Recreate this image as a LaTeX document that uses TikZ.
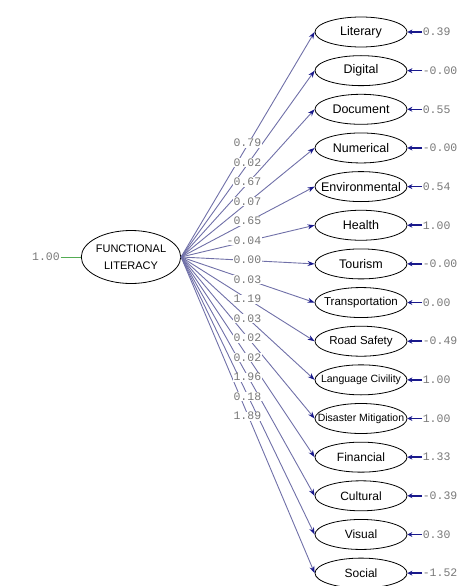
\documentclass[tikz,border=0pt]{standalone}
\usepackage{fontspec}
\setsansfont{Liberation Sans}
\setmonofont{Liberation Mono}
\usetikzlibrary{arrows.meta,shapes.geometric,positioning}
\definecolor{lineblue}{RGB}{112,112,168}
\definecolor{tipblue}{RGB}{25,25,140}
\definecolor{numgray}{RGB}{120,120,120}

\begin{document}
\begin{tikzpicture}[x=1pt, y=-1pt, >={Stealth[length=7pt,width=5pt,color=tipblue]},
    ind/.style={ellipse, draw, thick, minimum width=92pt, minimum height=30pt, inner xsep=-14pt, inner ysep=0pt},
    num/.style={font=\ttfamily\fontsize{11.5}{12}\selectfont, text=numgray, inner sep=0.6pt},
    load/.style={->, lineblue, line width=0.9pt},
    errarr/.style={-{Stealth[length=5pt,width=5pt]}, tipblue, line width=1.6pt}]
    \useasboundingbox (0,0) rectangle (464,586);

    % latent variable
    \node[ellipse, draw, thick, minimum width=92pt, minimum height=53pt, inner sep=0pt,
          align=center, font=\sffamily\fontsize{11}{17}\selectfont]
          (fl) at (131,257) {FUNCTIONAL\\LITERACY};
    \node[num] (v) at (46,257) {1.00};
    \draw[green!35!gray, line width=0.8pt] (v) -- (fl);

    % indicators, errors and paths
    \foreach \lab/\err/\fs [count=\i] in {Literary/0.39/12.5, Digital/-0.00/12.5,
        Document/0.55/12.5, Numerical/-0.00/12.5, Environmental/0.54/12.5,
        Health/1.00/12.5, Tourism/-0.00/12.5, Transportation/0.00/11.5,
        Road Safety/-0.49/11.5, Language Civility/1.00/10.5,
        Disaster Mitigation/1.00/10.5, Financial/1.33/12, Cultural/-0.39/12,
        Visual/0.30/12, Social/-1.52/12}
    {
        \node[ind, font=\sffamily\fontsize{\fs}{\fs}\selectfont] (m\i) at (361,{32+(\i-1)*38.65}) {\lab};
        \node[num, anchor=west] (e\i) at (422,{32+(\i-1)*38.65}) {\err};
        \draw[errarr] (e\i.west) -- (m\i.east);
        \draw[load] (fl.east) -- (m\i.west);
    }

    % loadings
    \foreach \load [count=\i] in {0.79, 0.02, 0.67, 0.07, 0.65, -0.04, 0.00, 0.03,
        1.19, 0.03, 0.02, 0.02, 1.96, 0.18, 1.89}
        \node[num, anchor=east, fill=white] (l\i) at (262,{143+(\i-1)*19.5}) {\load};
\end{tikzpicture}
\end{document}
